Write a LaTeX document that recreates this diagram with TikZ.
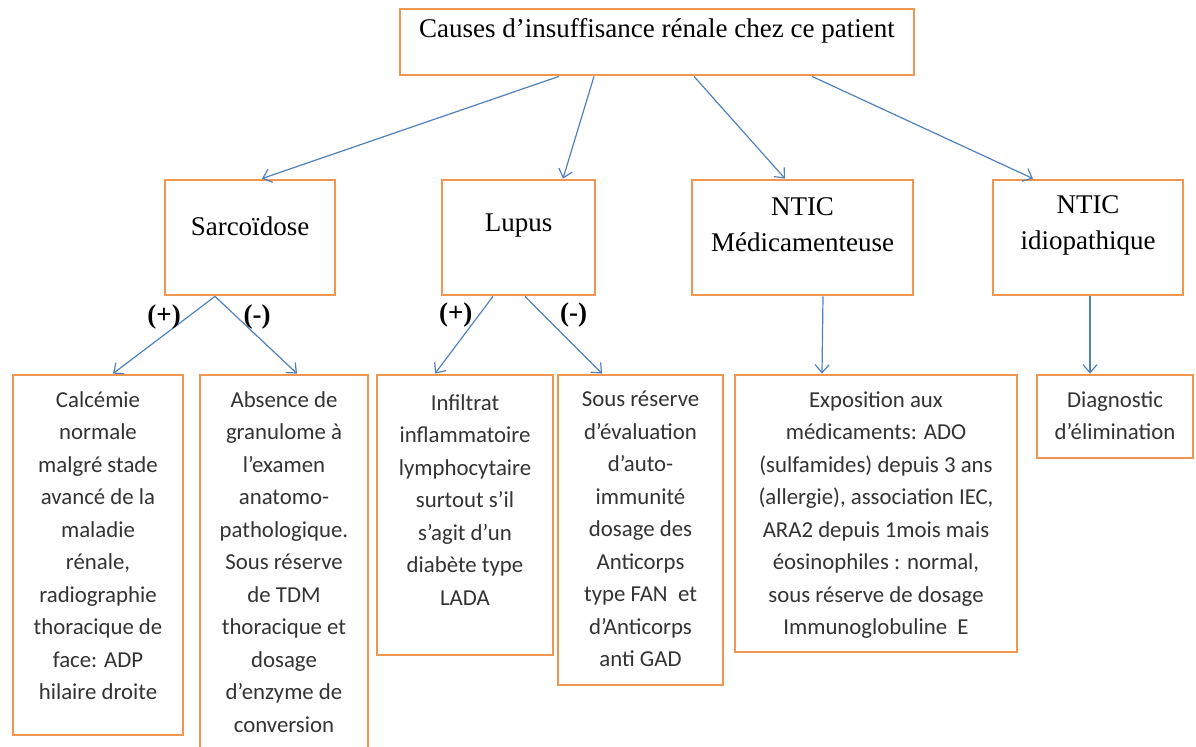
\documentclass[tikz,border=0pt]{standalone}
\usepackage{fontspec}
\setmainfont{Liberation Serif}
\newfontfamily\calibri{Carlito}
\usetikzlibrary{arrows.meta,calc,positioning}

\definecolor{boxorange}{RGB}{240,150,80}
\definecolor{arrowblue}{RGB}{79,129,189}

\begin{document}
\begin{tikzpicture}[
     x=0.5pt, y=-0.5pt,
     align=center,
     box/.style={rectangle,draw=boxorange,line width=1.4pt,fill=white,inner sep=0pt},
     title/.style={font=\fontsize{13.5}{18}\selectfont,inner sep=0pt},
     note/.style={font=\calibri\fontsize{11.4}{16.25}\selectfont,text=black!80,anchor=north,inner sep=0pt},
     sign/.style={font=\bfseries\fontsize{13.5}{16}\selectfont,inner sep=1pt},
     arr/.style={draw=arrowblue,line width=0.6pt,-{Straight Barb[length=4pt,width=7pt]}}]

  \clip (0,0) rectangle (1196,747);

  % top
  \node[box,minimum width=257pt,minimum height=33pt] (causes) at (657,42) {};
  \node[title] (causestxt) at (657,31) {Causes d’insuffisance rénale chez ce patient};

  % causes
  \node[box,minimum width=85pt,minimum height=57.5pt] (sarco) at (250,237.5) {};
  \node[title] (sarcotxt) at (250,226) {Sarcoïdose};

  \node[box,minimum width=76.5pt,minimum height=57.5pt] (lupus) at (518.5,237.5) {};
  \node[title] (lupustxt) at (518.5,226) {Lupus};

  \node[box,minimum width=110.5pt,minimum height=57.5pt] (ntmed) at (802.5,237.5) {};
  \node[title] (ntmedtxt) at (802.5,225) {NTIC\\Médicamenteuse};

  \node[box,minimum width=95pt,minimum height=57.5pt] (ntidio) at (1088,237.5) {};
  \node[title] (ntidiotxt) at (1088,225) {NTIC\\idiopathique};

  % arguments
  \node[box,minimum width=85pt,minimum height=180pt] (calc) at (98,555) {};
  \node[note] (calctxt) at (98,391) {Calcémie\\normale\\malgré stade\\avancé de la\\maladie\\rénale,\\radiographie\\thoracique de\\face: ADP\\hilaire droite};

  \node[box,minimum width=84pt,minimum height=197.5pt] (absence) at (284,572.5) {};
  \node[note] (absencetxt) at (284,391) {Absence de\\granulome à\\l’examen\\anatomo-\\pathologique.\\Sous réserve\\de TDM\\thoracique et\\dosage\\d’enzyme de\\conversion};

  \node[box,minimum width=88pt,minimum height=140pt] (infiltrat) at (465,515) {};
  \node[note] (infiltrattxt) at (465,394) {Infiltrat\\inflammatoire\\lymphocytaire\\surtout s’il\\s’agit d’un\\diabète type\\LADA};

  \node[box,minimum width=82.5pt,minimum height=155pt] (reserve) at (640.5,530) {};
  \node[note] (reservetxt) at (640.5,391) {Sous réserve\\d’évaluation\\d’auto-\\immunité\\dosage des\\Anticorps\\type FAN~ et\\d’Anticorps\\anti GAD};

  \node[box,minimum width=141pt,minimum height=138.5pt] (expo) at (876,513.5) {};
  \node[note] (expotxt) at (876,391) {Exposition aux\\médicaments: ADO\\(sulfamides) depuis 3 ans\\(allergie), association IEC,\\ARA2 depuis 1mois mais\\éosinophiles : normal,\\sous réserve de dosage\\Immunoglobuline~ E};

  \node[box,minimum width=78pt,minimum height=41.5pt] (diag) at (1115,416.5) {};
  \node[note] (diagtxt) at (1115,391) {Diagnostic\\d’élimination};

  % arrows
  \draw[arr] ($(causes.south)+(-98,0)$) -- ($(sarco.north)+(12,0)$);
  \draw[arr] ($(causes.south)+(-63,0)$) -- ($(lupus.north)+(44.5,0)$);
  \draw[arr] ($(causes.south)+(37,0)$) -- ($(ntmed.north)+(-17.5,0)$);
  \draw[arr] ($(causes.south)+(155,0)$) -- ($(ntidio.north)+(-55,0)$);

  \draw[arr] ($(sarco.south)+(-35,0)$) -- node[sign,pos=.27,left=2pt] {(+)} ($(calc.north)+(15,0)$);
  \draw[arr] ($(sarco.south)+(-35,0)$) -- node[sign,pos=.27,right=2pt] {(-)} ($(absence.north)+(13,0)$);
  \draw[arr] ($(lupus.south)+(-25.5,0)$) -- node[sign,pos=.24,left=2pt] {(+)} ($(infiltrat.north)+(-30,0)$);
  \draw[arr] ($(lupus.south)+(6.5,0)$) -- node[sign,pos=.24,right=7pt] {(-)} ($(reserve.north)+(-38.5,0)$);
  \draw[arr] ($(ntmed.south)+(20.5,0)$) -- ($(expo.north)+(-54,0)$);
  \draw[arr] ($(ntidio.south)+(2,0)$) -- ($(diag.north)+(-25,0)$);

\end{tikzpicture}
\end{document}
